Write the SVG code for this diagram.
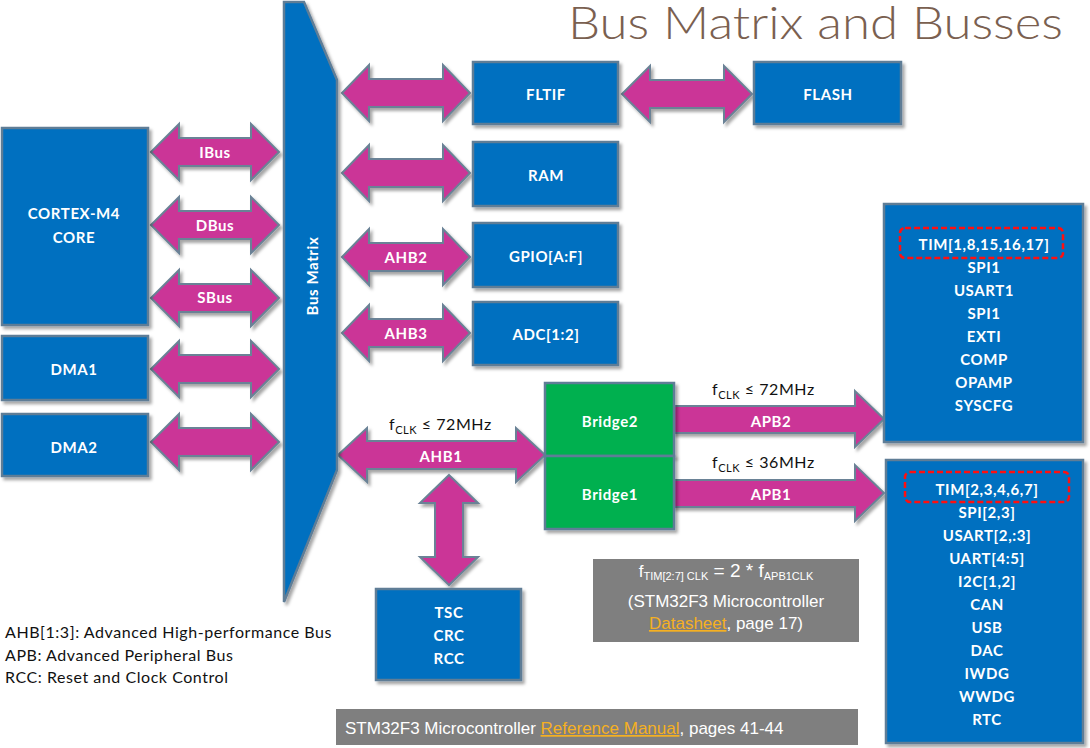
<svg xmlns="http://www.w3.org/2000/svg" width="1090" height="748" viewBox="0 0 1090 748">
<defs>
<filter id="sh" x="-10%" y="-10%" width="130%" height="130%">
<feDropShadow dx="2.5" dy="3" stdDeviation="1.8" flood-color="#000" flood-opacity="0.35"/>
</filter>
<style>
.box{fill:#0070c0;stroke:#5f7d96;stroke-width:2.5;filter:url(#sh)}
.grn{fill:#00b050;stroke:#5f7d96;stroke-width:2.5;filter:url(#sh)}
.arr{fill:#cb3497;stroke:#6a8296;stroke-width:2;stroke-linejoin:miter;filter:url(#sh)}
.lbl{font-family:Lato,"DejaVu Sans",sans-serif;font-size:15px;font-weight:bold;fill:#fff;text-anchor:middle;letter-spacing:0.6px}
.blk{font-family:Lato,"DejaVu Sans",sans-serif;font-size:16px;fill:#111;letter-spacing:0.55px}
.note{font-family:"Liberation Sans",Arial,sans-serif;font-size:17px;fill:#fff}
.lnk{fill:#f5b022;text-decoration:underline}
.dash{fill:none;stroke:#ff1010;stroke-width:2.5;stroke-dasharray:6 3}
.gray{fill:#7f7f7f}
</style>
</defs>
<rect width="1090" height="748" fill="#fff"/>

<text x="1063" y="39" text-anchor="end" font-family="Lato,'DejaVu Sans',sans-serif" font-weight="300" font-size="45" fill="#7a6050" textLength="495" lengthAdjust="spacingAndGlyphs">Bus Matrix and Busses</text>

<g id="connectors">
<polygon class="arr" points="151,152 179,124 179,138 251,138 251,124 279,152 251,180 251,166 179,166 179,180"/>
<polygon class="arr" points="151,225 179,197 179,211 251,211 251,197 279,225 251,253 251,239 179,239 179,253"/>
<polygon class="arr" points="151,298 179,270 179,284 251,284 251,270 279,298 251,326 251,312 179,312 179,326"/>
<polygon class="arr" points="151,369 179,341 179,355 251,355 251,341 279,369 251,397 251,383 179,383 179,397"/>
<polygon class="arr" points="151,442 179,414 179,428 251,428 251,414 279,442 251,470 251,456 179,456 179,470"/>
<polygon class="arr" points="342,93 369,65 369,79 443,79 443,65 470,93 443,121 443,107 369,107 369,121"/>
<polygon class="arr" points="342,173 369,145 369,159 443,159 443,145 470,173 443,201 443,187 369,187 369,201"/>
<polygon class="arr" points="342,257 369,229 369,243 443,243 443,229 470,257 443,285 443,271 369,271 369,285"/>
<polygon class="arr" points="342,333 369,305 369,319 443,319 443,305 470,333 443,361 443,347 369,347 369,361"/>
<polygon class="arr" points="622,94 650,66 650,80 724,80 724,66 752,94 724,122 724,108 650,108 650,122"/>
<polygon class="arr" points="338,455 367,428 367,441 516,441 516,428 545,455 516,482 516,469 367,469 367,482"/>
<polygon class="arr" points="449,475 478,503 463,503 463,557 478,557 449,585 420,557 435,557 435,503 420,503"/>
<polygon class="arr" points="673,406 855,406 855,391 884,419 855,447 855,433 673,433"/>
<polygon class="arr" points="673,480 855,480 855,465 884,493 855,521 855,507 673,507"/>
<text class="lbl" x="215" y="158">IBus</text>
<text class="lbl" x="215" y="231">DBus</text>
<text class="lbl" x="215" y="303">SBus</text>
<text class="lbl" x="406" y="263">AHB2</text>
<text class="lbl" x="406" y="339">AHB3</text>
<text class="lbl" x="441" y="462">AHB1</text>
<text class="lbl" x="771" y="427">APB2</text>
<text class="lbl" x="771" y="500">APB1</text>
<text class="blk" x="389" y="430">f<tspan font-size="11" dy="4">CLK</tspan><tspan dy="-4"> ≤ 72MHz</tspan></text>
<text class="blk" x="712" y="395">f<tspan font-size="11" dy="4">CLK</tspan><tspan dy="-4"> ≤ 72MHz</tspan></text>
<text class="blk" x="712" y="468">f<tspan font-size="11" dy="4">CLK</tspan><tspan dy="-4"> ≤ 36MHz</tspan></text>
</g>

<g id="busmatrix">
<polygon class="box" points="284,2 304,2 337,80 337,470 284,602"/>
<text class="lbl" transform="translate(318,276) rotate(-90)" font-size="14">Bus Matrix</text>
</g>

<g id="cortex">
<rect class="box" x="2" y="128" width="146" height="197"/>
<text class="lbl" x="74" y="219">CORTEX-M4</text>
<text class="lbl" x="74" y="243">CORE</text>
</g>
<g id="dma1">
<rect class="box" x="2" y="336" width="146" height="64"/>
<text class="lbl" x="74" y="375">DMA1</text>
</g>
<g id="dma2">
<rect class="box" x="2" y="414" width="146" height="62"/>
<text class="lbl" x="74" y="453">DMA2</text>
</g>

<g id="fltif">
<rect class="box" x="473" y="62" width="145" height="62"/>
<text class="lbl" x="546" y="100">FLTIF</text>
</g>
<g id="flash">
<rect class="box" x="754" y="62" width="147" height="62"/>
<text class="lbl" x="828" y="100">FLASH</text>
</g>
<g id="ram">
<rect class="box" x="473" y="142" width="145" height="64"/>
<text class="lbl" x="546" y="181">RAM</text>
</g>
<g id="gpio">
<rect class="box" x="473" y="223" width="145" height="64"/>
<text class="lbl" x="546" y="262">GPIO[A:F]</text>
</g>
<g id="adc">
<rect class="box" x="473" y="302" width="145" height="63"/>
<text class="lbl" x="546" y="340">ADC[1:2]</text>
</g>

<g id="bridge2">
<rect class="grn" x="545" y="383" width="129" height="73"/>
<text class="lbl" x="610" y="427">Bridge2</text>
</g>
<g id="bridge1">
<rect class="grn" x="545" y="456" width="129" height="73"/>
<text class="lbl" x="610" y="500">Bridge1</text>
</g>

<g id="tsc">
<rect class="box" x="376" y="589" width="145" height="91"/>
<text class="lbl" x="449" y="618">TSC</text>
<text class="lbl" x="449" y="641">CRC</text>
<text class="lbl" x="449" y="664">RCC</text>
</g>

<g id="apb2periph">
<rect class="box" x="884" y="204" width="199" height="238"/>
<rect class="dash" x="900" y="228" width="163" height="30" rx="5"/>
<text class="lbl" x="984" y="250">TIM[1,8,15,16,17]</text>
<text class="lbl" x="984" y="273">SPI1</text>
<text class="lbl" x="984" y="296">USART1</text>
<text class="lbl" x="984" y="319">SPI1</text>
<text class="lbl" x="984" y="342">EXTI</text>
<text class="lbl" x="984" y="365">COMP</text>
<text class="lbl" x="984" y="388">OPAMP</text>
<text class="lbl" x="984" y="411">SYSCFG</text>
</g>

<g id="apb1periph">
<rect class="box" x="886" y="460" width="197" height="283"/>
<rect class="dash" x="905" y="472" width="164" height="30" rx="5"/>
<text class="lbl" x="987" y="495">TIM[2,3,4,6,7]</text>
<text class="lbl" x="987" y="518">SPI[2,3]</text>
<text class="lbl" x="987" y="541">USART[2,:3]</text>
<text class="lbl" x="987" y="564">UART[4:5]</text>
<text class="lbl" x="987" y="587">I2C[1,2]</text>
<text class="lbl" x="987" y="610">CAN</text>
<text class="lbl" x="987" y="633">USB</text>
<text class="lbl" x="987" y="656">DAC</text>
<text class="lbl" x="987" y="679">IWDG</text>
<text class="lbl" x="987" y="702">WWDG</text>
<text class="lbl" x="987" y="725">RTC</text>
</g>

<g id="legend">
<text class="blk" x="5" y="638">AHB[1:3]: Advanced High-performance Bus</text>
<text class="blk" x="5" y="661">APB: Advanced Peripheral Bus</text>
<text class="blk" x="5" y="683">RCC: Reset and Clock Control</text>
</g>

<g id="note">
<rect class="gray" x="593" y="559" width="266" height="83"/>
<text class="note" x="726" y="577" text-anchor="middle">f<tspan font-size="11" dy="3">TIM[2:7] CLK</tspan><tspan dy="-3" font-size="19"> = 2 * f</tspan><tspan font-size="11" dy="3">APB1CLK</tspan></text>
<text class="note" x="726" y="607" text-anchor="middle">(STM32F3 Microcontroller</text>
<text class="note" x="726" y="629" text-anchor="middle"><tspan class="lnk">Datasheet</tspan>, page 17)</text>
</g>

<g id="refmanual">
<rect class="gray" x="336" y="709" width="522" height="36"/>
<text class="note" x="345" y="734">STM32F3 Microcontroller <tspan class="lnk">Reference Manual</tspan>, pages 41-44</text>
</g>
</svg>
